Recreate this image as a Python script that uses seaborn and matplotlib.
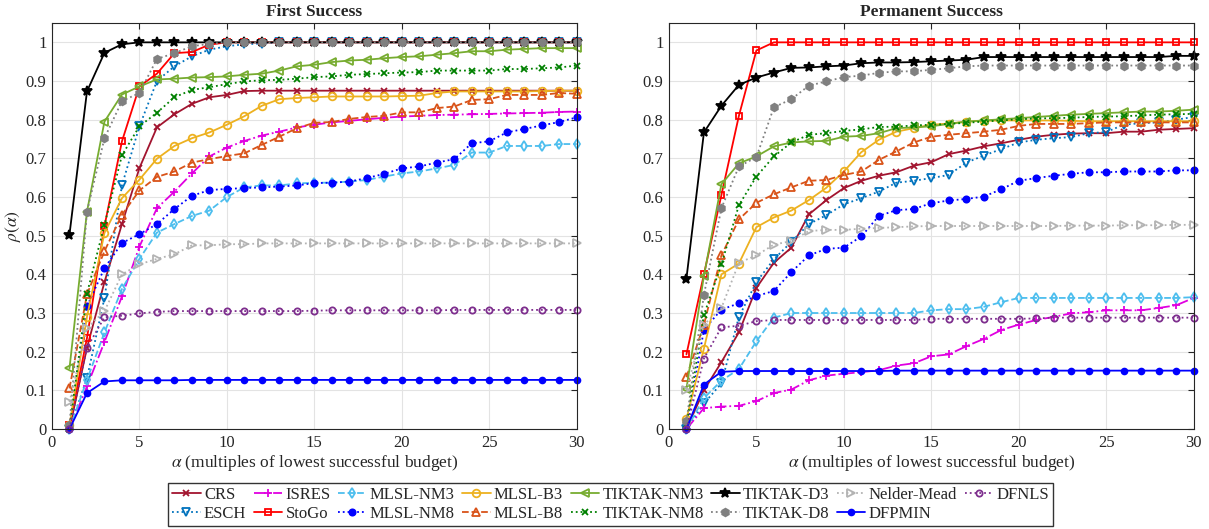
import numpy as np
import pandas as pd
import seaborn as sns
import matplotlib.pyplot as plt

# budget multiples on the x axis
alpha = list(range(1, 31))

# ---- First Success (left panel) ----
crs_L = [0.0, 0.21, 0.38, 0.53, 0.675, 0.78, 0.814, 0.841, 0.858, 0.864, 0.874, 0.875, 0.875, 0.875, 0.875,
         0.875, 0.875, 0.875, 0.875, 0.875, 0.875, 0.875, 0.875, 0.875, 0.875, 0.875, 0.875, 0.875, 0.875, 0.875]
isres_L = [0.0, 0.11, 0.225, 0.343, 0.472, 0.571, 0.614, 0.661, 0.705, 0.728, 0.745, 0.759, 0.769, 0.78, 0.787,
           0.793, 0.797, 0.801, 0.805, 0.808, 0.81, 0.812, 0.813, 0.814, 0.815, 0.816, 0.817, 0.818, 0.82, 0.821]
mlslnm3_L = [0.0, 0.127, 0.25, 0.362, 0.44, 0.508, 0.53, 0.551, 0.565, 0.6, 0.625, 0.63, 0.63, 0.635, 0.637,
             0.637, 0.64, 0.644, 0.653, 0.661, 0.666, 0.674, 0.683, 0.715, 0.715, 0.732, 0.732, 0.732, 0.737, 0.737]
mlslb3_L = [0.01, 0.29, 0.507, 0.597, 0.645, 0.699, 0.732, 0.752, 0.767, 0.787, 0.809, 0.836, 0.853, 0.856, 0.858,
            0.86, 0.86, 0.86, 0.86, 0.861, 0.862, 0.869, 0.873, 0.873, 0.873, 0.873, 0.873, 0.874, 0.875, 0.875]
tnm3_L = [0.157, 0.562, 0.795, 0.865, 0.886, 0.904, 0.906, 0.909, 0.91, 0.912, 0.916, 0.919, 0.927, 0.938, 0.942,
          0.949, 0.953, 0.955, 0.959, 0.962, 0.964, 0.968, 0.972, 0.977, 0.977, 0.981, 0.983, 0.985, 0.985, 0.985]
td3_L = [0.503, 0.873, 0.973, 0.995, 1.0, 1.0, 1.0, 1.0, 1.0, 1.0, 1.0, 1.0, 1.0, 1.0, 1.0,
         1.0, 1.0, 1.0, 1.0, 1.0, 1.0, 1.0, 1.0, 1.0, 1.0, 1.0, 1.0, 1.0, 1.0, 1.0]
nelder_L = [0.07, 0.26, 0.305, 0.4, 0.426, 0.44, 0.452, 0.475, 0.475, 0.478, 0.478, 0.48, 0.48, 0.48, 0.48,
            0.48, 0.48, 0.48, 0.48, 0.48, 0.48, 0.48, 0.48, 0.48, 0.48, 0.48, 0.48, 0.48, 0.48, 0.48]
dfnls_L = [0.0, 0.21, 0.289, 0.293, 0.299, 0.303, 0.305, 0.305, 0.305, 0.305, 0.305, 0.305, 0.305, 0.305, 0.306,
           0.307, 0.307, 0.307, 0.307, 0.307, 0.307, 0.307, 0.308, 0.308, 0.308, 0.308, 0.308, 0.308, 0.308, 0.308]
esch_L = [0.0, 0.131, 0.339, 0.63, 0.783, 0.9, 0.938, 0.964, 0.981, 0.99, 0.995, 0.997, 1.0, 1.0, 1.0,
          1.0, 1.0, 1.0, 1.0, 1.0, 1.0, 1.0, 1.0, 1.0, 1.0, 1.0, 1.0, 1.0, 1.0, 1.0]
stogo_L = [0.01, 0.235, 0.525, 0.744, 0.886, 0.919, 0.972, 0.975, 0.994, 1.0, 1.0, 1.0, 1.0, 1.0, 1.0,
           1.0, 1.0, 1.0, 1.0, 1.0, 1.0, 1.0, 1.0, 1.0, 1.0, 1.0, 1.0, 1.0, 1.0, 1.0]
mlslnm8_L = [0.0, 0.317, 0.416, 0.481, 0.504, 0.53, 0.569, 0.603, 0.618, 0.621, 0.623, 0.625, 0.627, 0.63, 0.636,
             0.637, 0.64, 0.649, 0.66, 0.674, 0.679, 0.689, 0.698, 0.739, 0.744, 0.767, 0.776, 0.785, 0.794, 0.806]
mlslb8_L = [0.105, 0.348, 0.46, 0.554, 0.617, 0.652, 0.666, 0.689, 0.698, 0.706, 0.713, 0.735, 0.756, 0.778, 0.792,
            0.794, 0.802, 0.807, 0.81, 0.819, 0.819, 0.83, 0.834, 0.851, 0.853, 0.864, 0.864, 0.864, 0.869, 0.867]
tnm8_L = [0.0, 0.35, 0.528, 0.708, 0.783, 0.818, 0.858, 0.877, 0.884, 0.892, 0.899, 0.902, 0.903, 0.906, 0.91,
          0.912, 0.916, 0.918, 0.92, 0.922, 0.923, 0.927, 0.927, 0.927, 0.927, 0.931, 0.931, 0.933, 0.935, 0.94]
td8_L = [0.01, 0.562, 0.752, 0.848, 0.869, 0.957, 0.972, 0.99, 0.996, 1.0, 1.0, 1.0, 1.0, 1.0, 1.0,
         1.0, 1.0, 1.0, 1.0, 1.0, 1.0, 1.0, 1.0, 1.0, 1.0, 1.0, 1.0, 1.0, 1.0, 1.0]
dfpmin_L = [0.0, 0.093, 0.123, 0.126, 0.126, 0.126, 0.126, 0.127, 0.127, 0.127, 0.127, 0.127, 0.127, 0.127, 0.127,
            0.127, 0.127, 0.127, 0.127, 0.127, 0.127, 0.127, 0.127, 0.127, 0.127, 0.127, 0.127, 0.127, 0.127, 0.127]

# ---- Permanent Success (right panel) ----
crs_R = [0.0, 0.1, 0.173, 0.25, 0.365, 0.43, 0.469, 0.555, 0.592, 0.623, 0.642, 0.655, 0.664, 0.681, 0.69,
         0.711, 0.72, 0.731, 0.739, 0.748, 0.756, 0.761, 0.764, 0.765, 0.765, 0.769, 0.769, 0.774, 0.776, 0.778]
isres_R = [0.0, 0.054, 0.058, 0.06, 0.072, 0.093, 0.102, 0.126, 0.138, 0.143, 0.147, 0.152, 0.164, 0.17, 0.188,
           0.193, 0.214, 0.233, 0.256, 0.27, 0.282, 0.29, 0.299, 0.302, 0.307, 0.307, 0.307, 0.313, 0.32, 0.339]
mlslnm3_R = [0.0, 0.08, 0.125, 0.155, 0.227, 0.288, 0.3, 0.3, 0.3, 0.3, 0.3, 0.3, 0.3, 0.3, 0.307,
             0.31, 0.31, 0.316, 0.328, 0.339, 0.339, 0.339, 0.339, 0.339, 0.339, 0.339, 0.339, 0.339, 0.339, 0.341]
mlslb3_R = [0.026, 0.208, 0.4, 0.428, 0.522, 0.547, 0.565, 0.592, 0.624, 0.666, 0.716, 0.748, 0.769, 0.778, 0.787,
            0.79, 0.795, 0.797, 0.798, 0.798, 0.798, 0.798, 0.797, 0.796, 0.796, 0.796, 0.796, 0.796, 0.796, 0.796]
tnm3_R = [0.104, 0.396, 0.633, 0.687, 0.705, 0.731, 0.741, 0.744, 0.745, 0.756, 0.758, 0.765, 0.778, 0.78, 0.783,
          0.789, 0.795, 0.798, 0.801, 0.804, 0.807, 0.81, 0.813, 0.815, 0.817, 0.819, 0.821, 0.821, 0.823, 0.826]
td3_R = [0.389, 0.767, 0.836, 0.89, 0.909, 0.922, 0.934, 0.935, 0.938, 0.94, 0.946, 0.948, 0.948, 0.949, 0.951,
         0.953, 0.955, 0.962, 0.962, 0.962, 0.962, 0.962, 0.962, 0.962, 0.962, 0.962, 0.962, 0.962, 0.965, 0.965]
nelder_R = [0.1, 0.27, 0.313, 0.43, 0.449, 0.477, 0.486, 0.512, 0.515, 0.515, 0.518, 0.52, 0.522, 0.524, 0.525,
            0.525, 0.525, 0.525, 0.525, 0.525, 0.525, 0.525, 0.526, 0.526, 0.526, 0.527, 0.527, 0.527, 0.528, 0.528]
dfnls_R = [0.0, 0.182, 0.263, 0.267, 0.279, 0.282, 0.282, 0.282, 0.282, 0.282, 0.282, 0.282, 0.282, 0.282, 0.285,
           0.285, 0.285, 0.285, 0.285, 0.285, 0.286, 0.288, 0.288, 0.288, 0.288, 0.288, 0.288, 0.288, 0.288, 0.288]
esch_R = [0.0, 0.066, 0.118, 0.29, 0.38, 0.439, 0.484, 0.53, 0.553, 0.581, 0.597, 0.614, 0.637, 0.642, 0.649,
          0.657, 0.689, 0.707, 0.724, 0.741, 0.748, 0.752, 0.755, 0.765, 0.768, 0.787, 0.791, 0.793, 0.8, 0.807]
stogo_R = [0.193, 0.4, 0.605, 0.81, 0.979, 1.0, 1.0, 1.0, 1.0, 1.0, 1.0, 1.0, 1.0, 1.0, 1.0,
           1.0, 1.0, 1.0, 1.0, 1.0, 1.0, 1.0, 1.0, 1.0, 1.0, 1.0, 1.0, 1.0, 1.0, 1.0]
mlslnm8_R = [0.0, 0.257, 0.309, 0.325, 0.344, 0.357, 0.406, 0.449, 0.466, 0.469, 0.498, 0.551, 0.566, 0.569, 0.584,
             0.591, 0.595, 0.601, 0.62, 0.642, 0.649, 0.655, 0.66, 0.664, 0.664, 0.666, 0.666, 0.666, 0.669, 0.669]
mlslb8_R = [0.134, 0.27, 0.449, 0.542, 0.585, 0.607, 0.625, 0.642, 0.644, 0.657, 0.666, 0.696, 0.718, 0.741, 0.756,
            0.761, 0.765, 0.769, 0.774, 0.784, 0.789, 0.789, 0.789, 0.791, 0.793, 0.793, 0.793, 0.793, 0.793, 0.793]
tnm8_R = [0.01, 0.295, 0.426, 0.579, 0.653, 0.705, 0.741, 0.761, 0.765, 0.771, 0.775, 0.781, 0.782, 0.785, 0.787,
          0.789, 0.792, 0.795, 0.798, 0.801, 0.803, 0.804, 0.805, 0.807, 0.808, 0.809, 0.811, 0.813, 0.814, 0.815]
td8_R = [0.02, 0.347, 0.571, 0.679, 0.703, 0.832, 0.853, 0.888, 0.899, 0.91, 0.914, 0.921, 0.925, 0.925, 0.929,
         0.933, 0.938, 0.94, 0.94, 0.94, 0.94, 0.94, 0.94, 0.94, 0.94, 0.94, 0.94, 0.94, 0.94, 0.94]
dfpmin_R = [0.0, 0.115, 0.148, 0.15, 0.15, 0.15, 0.15, 0.15, 0.15, 0.15, 0.15, 0.15, 0.151, 0.151, 0.151,
            0.151, 0.151, 0.151, 0.151, 0.151, 0.151, 0.151, 0.151, 0.151, 0.151, 0.151, 0.151, 0.151, 0.151, 0.151]

solvers = ['CRS', 'ESCH', 'ISRES', 'StoGo', 'MLSL-NM3', 'MLSL-NM8', 'MLSL-B3', 'MLSL-B8',
           'TIKTAK-NM3', 'TIKTAK-NM8', 'TIKTAK-D3', 'TIKTAK-D8', 'Nelder-Mead', 'DFPMIN', 'DFNLS']
left = {'CRS': crs_L, 'ESCH': esch_L, 'ISRES': isres_L, 'StoGo': stogo_L, 'MLSL-NM3': mlslnm3_L,
        'MLSL-NM8': mlslnm8_L, 'MLSL-B3': mlslb3_L, 'MLSL-B8': mlslb8_L, 'TIKTAK-NM3': tnm3_L,
        'TIKTAK-NM8': tnm8_L, 'TIKTAK-D3': td3_L, 'TIKTAK-D8': td8_L, 'Nelder-Mead': nelder_L,
        'DFPMIN': dfpmin_L, 'DFNLS': dfnls_L}
right = {'CRS': crs_R, 'ESCH': esch_R, 'ISRES': isres_R, 'StoGo': stogo_R, 'MLSL-NM3': mlslnm3_R,
         'MLSL-NM8': mlslnm8_R, 'MLSL-B3': mlslb3_R, 'MLSL-B8': mlslb8_R, 'TIKTAK-NM3': tnm3_R,
         'TIKTAK-NM8': tnm8_R, 'TIKTAK-D3': td3_R, 'TIKTAK-D8': td8_R, 'Nelder-Mead': nelder_R,
         'DFPMIN': dfpmin_R, 'DFNLS': dfnls_R}

# colour, marker, linestyle, filled, marker size
style = {
    'CRS':         ('#A2142F', 'x', '-', True, 5),
    'ESCH':        ('#0072BD', 'v', ':', False, 5.5),
    'ISRES':       ('#E000E0', '+', '-.', True, 6),
    'StoGo':       ('#FF0000', 's', '-', False, 5),
    'MLSL-NM3':    ('#4DBEEE', 'd', '--', False, 5.5),
    'MLSL-NM8':    ('#0000FF', 'o', ':', True, 4.5),
    'MLSL-B3':     ('#EDB120', 'o', '-', False, 5.5),
    'MLSL-B8':     ('#D95319', '^', '--', False, 6),
    'TIKTAK-NM3':  ('#77AC30', '<', '-', False, 6),
    'TIKTAK-NM8':  ('#008000', 'x', ':', True, 5),
    'TIKTAK-D3':   ('#000000', '*', '-', True, 7.5),
    'TIKTAK-D8':   ('#808080', 'h', ':', True, 5.5),
    'Nelder-Mead': ('#B3B3B3', '>', ':', False, 5.5),
    'DFPMIN':      ('#0000FF', 'o', '-', True, 4.2),
    'DFNLS':       ('#7E2F8E', 'o', ':', False, 4.5),
}

sns.set_theme(style='whitegrid')
plt.rcParams['font.family'] = ['Liberation Serif', 'DejaVu Serif']
plt.rcParams['mathtext.fontset'] = 'stix'

fig = plt.figure(figsize=(12.09, 5.29), dpi=100)
ax1 = fig.add_axes([0.043, 0.189, 0.434, 0.7675])
ax2 = fig.add_axes([0.5533, 0.189, 0.434, 0.7675])

for ax, data, title in [(ax1, left, 'First Success'), (ax2, right, 'Permanent Success')]:
    rows = []
    for s in solvers:
        for a, r in zip(alpha, data[s]):
            rows.append((s, a, r))
    df = pd.DataFrame(rows, columns=['solver', 'alpha', 'rho'])
    for s in solvers:
        c, m, ls, filled, ms = style[s]
        sns.lineplot(data=df[df.solver == s], x='alpha', y='rho', ax=ax, color=c, marker=m,
                     linestyle=ls, linewidth=1.3, markersize=ms,
                     markerfacecolor=c if filled else 'none', markeredgecolor=c,
                     markeredgewidth=1.3, label=s, legend=False, clip_on=False)
    ax.set_xlim(0, 30)
    ax.set_ylim(0, 1.05)
    ax.set_xticks([0, 5, 10, 15, 20, 25, 30])
    ax.set_yticks(np.arange(0, 1.01, 0.1))
    ax.set_yticklabels(['0', '0.1', '0.2', '0.3', '0.4', '0.5', '0.6', '0.7', '0.8', '0.9', '1'])
    ax.set_xlabel(r'$\alpha$ (multiples of lowest successful budget)', fontsize=12.5, labelpad=2)
    ax.set_ylabel('')
    ax.set_title(title, fontsize=12.5, fontweight='bold', pad=5)
    ax.set_facecolor('white')
    ax.grid(True, color='#E3E3E3', linewidth=0.8)
    ax.tick_params(direction='in', top=True, right=True, length=4, width=0.8,
                   labelsize=12, colors='#262626', pad=4)
    for sp in ax.spines.values():
        sp.set_color('#262626')
        sp.set_linewidth(0.8)

ax1.set_ylabel(r'$\rho(\alpha)$', fontsize=12.5, labelpad=2)

handles, labels = ax1.get_legend_handles_labels()
fig.legend(handles, labels, ncol=8, loc='lower center', bbox_to_anchor=(0.505, 0.0),
           frameon=True, fancybox=False, edgecolor='#333333', framealpha=1,
           fontsize=12, handlelength=1.7, handletextpad=0.2, columnspacing=0.45,
           borderpad=0.25, labelspacing=0.15, borderaxespad=0.2)

plt.savefig('out.png', dpi=100)
